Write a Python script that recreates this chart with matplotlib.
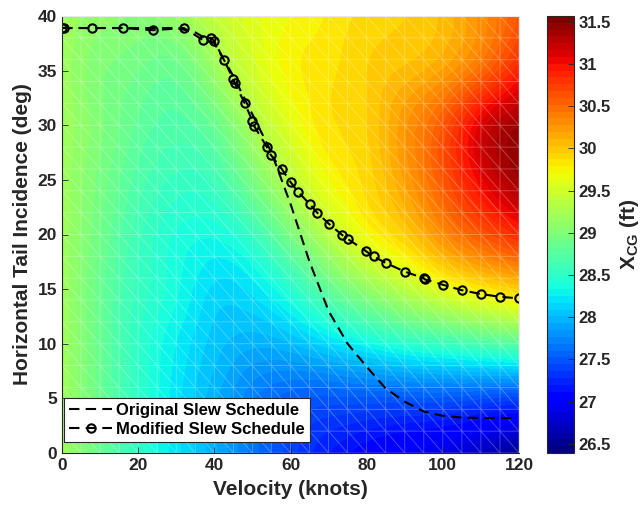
import numpy as np
import matplotlib
matplotlib.use("Agg")
import matplotlib.pyplot as plt
import matplotlib.tri as mtri
from matplotlib.colors import Normalize

#==============================================================================
# data
#==============================================================================
vel_grid = [0, 10, 20, 30, 40, 50, 60, 70, 80, 90, 100, 110, 120]
inc_grid = [0, 5, 10, 15, 20, 25, 30, 35, 40]

# X_CG (ft), one row per incidence, columns follow vel_grid
xcg_i0  = [29.2, 28.85, 28.5, 28.2, 27.95, 27.65, 27.4, 27.2, 27.05, 26.95, 26.85, 26.7, 26.5]
xcg_i5  = [29.2, 28.85, 28.5, 28.2, 27.95, 27.7, 27.55, 27.5, 27.5, 27.5, 27.5, 27.45, 27.4]
xcg_i10 = [29.2, 28.85, 28.5, 28.25, 28.05, 27.95, 28.0, 28.15, 28.3, 28.45, 28.55, 28.65, 28.75]
xcg_i15 = [29.2, 28.85, 28.55, 28.35, 28.15, 28.2, 28.45, 28.8, 29.1, 29.35, 29.6, 29.8, 29.95]
xcg_i20 = [29.2, 28.9, 28.6, 28.4, 28.35, 28.55, 28.95, 29.35, 29.7, 29.95, 30.3, 30.6, 30.85]
xcg_i25 = [29.2, 28.95, 28.7, 28.55, 28.6, 28.95, 29.35, 29.7, 29.9, 30.2, 30.6, 31.05, 31.4]
xcg_i30 = [29.2, 29.0, 28.8, 28.7, 28.85, 29.25, 29.6, 29.85, 29.95, 30.25, 30.6, 31.1, 31.4]
xcg_i35 = [29.2, 29.0, 28.9, 28.85, 29.15, 29.5, 29.75, 29.85, 29.95, 30.05, 30.2, 30.5, 30.9]
xcg_i40 = [29.2, 29.1, 29.05, 29.15, 29.4, 29.6, 29.7, 29.8, 29.9, 29.95, 30.05, 30.3, 30.6]

orig_vel = [0, 30, 35, 40, 45, 50, 55, 60, 65, 70, 75, 80, 85, 90, 95, 100, 105, 110, 118]
orig_inc = [38.9, 38.9, 38.5, 37.5, 34.5, 31.0, 27.5, 22.8, 17.5, 13.0, 10.0, 7.9, 5.9,
            4.7, 3.8, 3.4, 3.25, 3.2, 3.2]

mod_vel = [0, 0.5, 8, 16, 24, 32, 37, 39, 40, 42.5, 45, 45.3, 48, 50, 50.5, 53.8, 54.8,
           57.7, 60, 62, 65, 67, 70, 73.4, 75, 79.7, 81.8, 85, 90, 95, 95.2, 100, 105,
           110, 115, 120]
mod_inc = [38.9, 38.9, 38.9, 38.9, 38.7, 38.9, 37.8, 38.0, 37.7, 36.0, 34.2, 33.9, 32.0,
           30.4, 29.9, 28.0, 27.3, 26.0, 24.8, 23.9, 22.8, 22.0, 21.0, 20.0, 19.6, 18.5,
           18.0, 17.4, 16.6, 16.0, 15.9, 15.4, 14.9, 14.55, 14.3, 14.15]

cbar_ticks = [26.5, 27, 27.5, 28, 28.5, 29, 29.5, 30, 30.5, 31, 31.5]
clim = (26.39, 31.57)

#==============================================================================
plt.rcParams["font.family"] = ["Liberation Sans", "DejaVu Sans"]
plt.rcParams["font.weight"] = "bold"
plt.rcParams["mathtext.default"] = "regular"
dark = (0.15, 0.15, 0.15)

fig = plt.figure(figsize=(6.43, 5.16), dpi=100)
ax = fig.add_axes([62/643, 63/516, 457/643, 437/516])
cax = fig.add_axes([547/643, 63/516, 27/643, 437/516])

cmap = plt.get_cmap("jet", 64)
norm = Normalize(*clim)

# colour field
VV, II = np.meshgrid(vel_grid, inc_grid)
zz = np.array([xcg_i0, xcg_i5, xcg_i10, xcg_i15, xcg_i20,
               xcg_i25, xcg_i30, xcg_i35, xcg_i40])
tri = mtri.Triangulation(VV.ravel(), II.ravel())
refiner = mtri.UniformTriRefiner(tri)
tri_ref, z_ref = refiner.refine_field(zz.ravel(), subdiv=3)
levels = np.linspace(clim[0], clim[1], 65)
ax.tricontourf(tri_ref, np.clip(z_ref, clim[0] + 1e-3, clim[1] - 1e-3),
               levels=levels, cmap=cmap, norm=norm)

# faint white mesh edges
mx = np.arange(0, 121, 5)
my = np.arange(0, 41, 2)
MX, MY = np.meshgrid(mx, my)
nx_ = len(mx)
tris = []
for j in range(len(my) - 1):
    for i in range(nx_ - 1):
        a = j*nx_ + i
        b = a + 1
        c = a + nx_
        d = c + 1
        tris.append([a, b, c])
        tris.append([b, d, c])
mesh = mtri.Triangulation(MX.ravel(), MY.ravel(), tris)
ax.triplot(mesh, color="white", lw=0.6, alpha=0.3)

# schedules
ax.plot(orig_vel, orig_inc, color="k", ls="--", lw=1.5, dashes=(5, 3),
        label="Original Slew Schedule")
ax.plot(mod_vel, mod_inc, color="k", ls="--", lw=1.5, dashes=(5, 3), marker="o",
        ms=6, mfc="none", mew=1.5, label="Modified Slew Schedule")

ax.set_xlim(0, 120)
ax.set_ylim(0, 40)
ax.set_xticks(range(0, 121, 20))
ax.set_yticks(range(0, 41, 5))
ax.tick_params(direction="in", length=4, width=0.6, colors=dark, labelsize=12.5)
for s in ["left", "bottom"]:
    ax.spines[s].set_color(dark)
    ax.spines[s].set_linewidth(0.8)
for s in ["top", "right"]:
    ax.spines[s].set_color("#e8e8e8")
    ax.spines[s].set_linewidth(0.8)
ax.set_xlabel("Velocity (knots)", fontsize=15, fontweight="bold", color=dark, labelpad=5)
ax.set_ylabel("Horizontal Tail Incidence (deg)", fontsize=15, fontweight="bold", color=dark)

leg = ax.legend(loc="lower left", bbox_to_anchor=(2/457, 11/437), fontsize=12,
                fancybox=False, framealpha=1, edgecolor=dark, borderaxespad=0,
                handlelength=2.6, handletextpad=0.25, borderpad=0.3, labelspacing=0.25)
leg.get_frame().set_linewidth(0.8)

# colorbar
cb = fig.colorbar(plt.cm.ScalarMappable(norm=norm, cmap=cmap), cax=cax)
cb.set_ticks(cbar_ticks)
cb.set_ticklabels(["%g" % t for t in cbar_ticks])
cb.ax.tick_params(direction="in", length=4, width=0.6, colors=dark, labelsize=12)
cb.outline.set_edgecolor(dark)
cb.outline.set_linewidth(0.8)
cb.set_label("X$_{CG}$ (ft)", fontsize=15, fontweight="bold", color=dark, labelpad=5)

fig.savefig("out.png", dpi=100)
